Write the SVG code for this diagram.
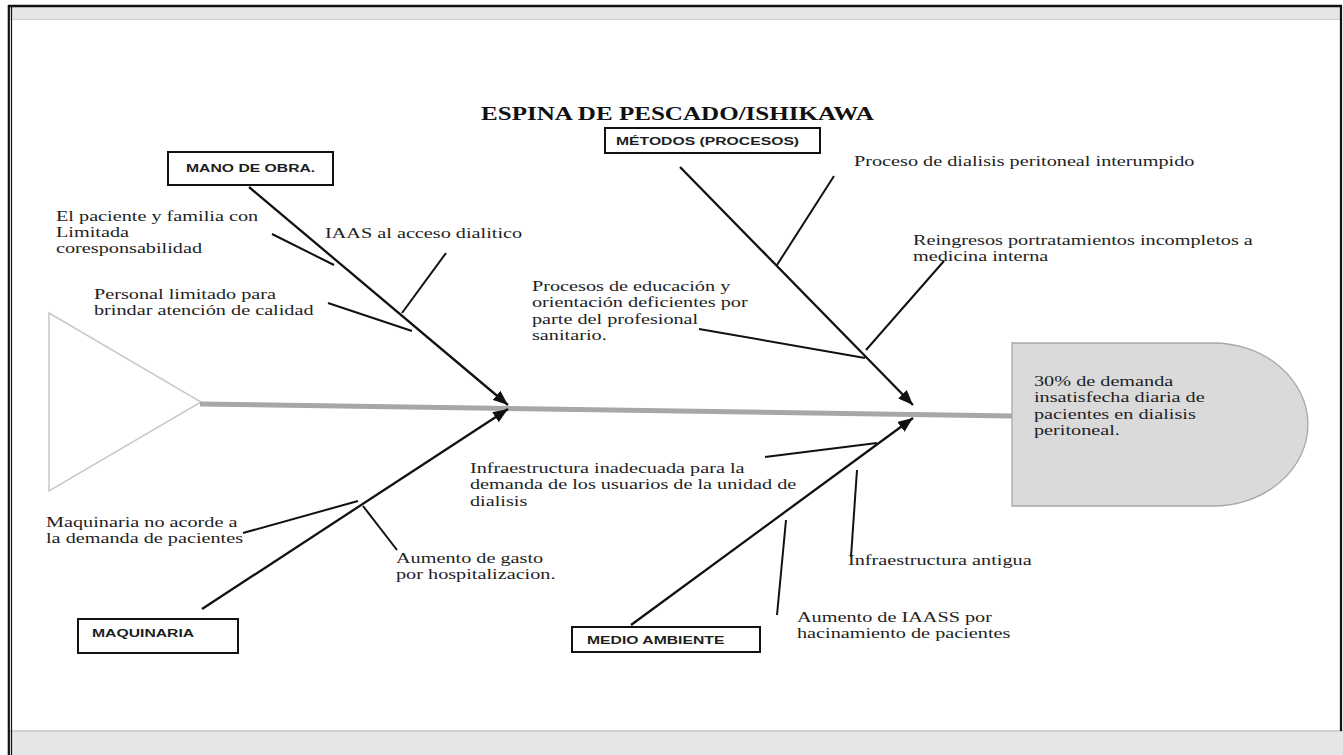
<svg xmlns="http://www.w3.org/2000/svg" width="1343" height="755" viewBox="0 0 1343 755">
  <style>
    .lbl { font-family: "Liberation Serif", "Times New Roman", serif; font-size: 15px; fill: #1e1e1e; }
    .cat { font-family: "Liberation Sans", Arial, sans-serif; font-size: 11px; font-weight: bold; fill: #1e1e1e; }
    .title { font-family: "Liberation Serif", "Times New Roman", serif; font-size: 19px; font-weight: bold; fill: #111; }
    .box { fill: #ffffff; stroke: #111; stroke-width: 2; }
    .bone { stroke: #111; stroke-width: 2.3; fill: none; }
    .sub { stroke: #111; stroke-width: 2; fill: none; }
  </style>
  <defs>
    <marker id="arr" markerUnits="userSpaceOnUse" markerWidth="16" markerHeight="12" refX="15" refY="6" orient="auto">
      <path d="M0,0 L15,6 L0,12 Z" fill="#111"/>
    </marker>
  </defs>

  <!-- frame -->
  <g id="frame">
    <rect x="0" y="0" width="1343" height="755" fill="#ffffff"/>
    <rect x="9" y="7" width="1332" height="13" fill="#e6e6e6"/>
    <line x1="9" y1="19.5" x2="1341" y2="19.5" stroke="#cfcfcf" stroke-width="1.2"/>
    <rect x="9" y="730" width="1334" height="25" fill="#e6e6e6"/>
    <line x1="9" y1="731" x2="1343" y2="731" stroke="#d0d0d0" stroke-width="2"/>
    <line x1="8" y1="6" x2="1342" y2="6" stroke="#111" stroke-width="2.5"/>
    <line x1="8.8" y1="5" x2="8.8" y2="755" stroke="#111" stroke-width="2.2"/>
    <line x1="11.5" y1="7" x2="11.5" y2="755" stroke="#111" stroke-width="1.2"/>
    <line x1="1341" y1="5" x2="1341" y2="731" stroke="#111" stroke-width="2.2"/>
  </g>

  <!-- title -->
  <text id="title" class="title" transform="matrix(1.32 0 0 1 481 120)" x="0" y="0">ESPINA DE PESCADO/ISHIKAWA</text>

  <!-- tail -->
  <g id="tail">
    <polygon points="49,313 201,402 49,491" fill="#ffffff" stroke="#c9c9c9" stroke-width="1.5"/>
  </g>

  <!-- head -->
  <g id="head">
    <path d="M1012,343 H1213 A95,81.5 0 0 1 1213,506 H1012 Z" fill="#dadada" stroke="#a8a8a8" stroke-width="1.3"/>
    <text class="lbl" transform="matrix(1.35 0 0 1 1034 386)">
      <tspan x="0" y="0">30% de demanda</tspan>
      <tspan x="0" y="16.5">insatisfecha diaria de</tspan>
      <tspan x="0" y="33">pacientes en dialisis</tspan>
      <tspan x="0" y="49.5">peritoneal.</tspan>
    </text>
  </g>

  <!-- connectors -->
  <g id="connectors">
    <line x1="200" y1="404" x2="1012" y2="416" stroke="#a7a7a7" stroke-width="5"/>
    <line class="bone" x1="249" y1="187" x2="508" y2="405" marker-end="url(#arr)"/>
    <line class="bone" x1="680" y1="167" x2="913" y2="405" marker-end="url(#arr)"/>
    <line class="bone" x1="202" y1="609" x2="508" y2="409" marker-end="url(#arr)"/>
    <line class="bone" x1="631" y1="625" x2="913" y2="418" marker-end="url(#arr)"/>
    <line class="sub" x1="446" y1="253" x2="402" y2="313"/>
    <line class="sub" x1="272" y1="234" x2="334" y2="265"/>
    <line class="sub" x1="328" y1="303" x2="412" y2="331"/>
    <line class="sub" x1="834" y1="176" x2="777" y2="265"/>
    <line class="sub" x1="944" y1="261" x2="866" y2="350"/>
    <line class="sub" x1="699" y1="329" x2="865" y2="358"/>
    <line class="sub" x1="243" y1="533" x2="358" y2="501"/>
    <line class="sub" x1="363" y1="506" x2="397" y2="550"/>
    <line class="sub" x1="765" y1="457" x2="877" y2="443"/>
    <line class="sub" x1="786" y1="520" x2="777" y2="615"/>
    <line class="sub" x1="857" y1="470" x2="851" y2="557"/>
  </g>

  <!-- category boxes -->
  <g id="mano-de-obra">
    <rect class="box" x="168" y="152" width="165" height="33"/>
    <text class="cat" transform="matrix(1.43 0 0 1 186 172)">MANO DE OBRA.</text>
  </g>
  <g id="metodos">
    <rect class="box" x="605" y="128" width="215" height="25"/>
    <text class="cat" transform="matrix(1.43 0 0 1 616 145)">MÉTODOS (PROCESOS)</text>
  </g>
  <g id="maquinaria">
    <rect class="box" x="78" y="619" width="160" height="34"/>
    <text class="cat" transform="matrix(1.43 0 0 1 92 637)">MAQUINARIA</text>
  </g>
  <g id="medio-ambiente">
    <rect class="box" x="572" y="627" width="188" height="25"/>
    <text class="cat" transform="matrix(1.43 0 0 1 587 644)">MEDIO AMBIENTE</text>
  </g>

  <!-- cause labels -->
  <g id="cause-paciente">
    <text class="lbl" transform="matrix(1.35 0 0 1 56 221)">
      <tspan x="0" y="0">El paciente y familia con</tspan>
      <tspan x="0" y="16">Limitada</tspan>
      <tspan x="0" y="32">coresponsabilidad</tspan>
    </text>
  </g>
  <g id="cause-iaas">
    <text class="lbl" transform="matrix(1.35 0 0 1 325 238)">IAAS al acceso dialitico</text>
  </g>
  <g id="cause-personal">
    <text class="lbl" transform="matrix(1.35 0 0 1 94 299)">
      <tspan x="0" y="0">Personal limitado para</tspan>
      <tspan x="0" y="16.5">brindar atención de calidad</tspan>
    </text>
  </g>
  <g id="cause-proceso">
    <text class="lbl" transform="matrix(1.35 0 0 1 854 166)">Proceso de dialisis peritoneal interumpido</text>
  </g>
  <g id="cause-reingresos">
    <text class="lbl" transform="matrix(1.35 0 0 1 913 245)">
      <tspan x="0" y="0">Reingresos portratamientos incompletos a</tspan>
      <tspan x="0" y="16">medicina interna</tspan>
    </text>
  </g>
  <g id="cause-educacion">
    <text class="lbl" transform="matrix(1.35 0 0 1 532 291)">
      <tspan x="0" y="0">Procesos de educación y</tspan>
      <tspan x="0" y="16.5">orientación deficientes por</tspan>
      <tspan x="0" y="33">parte del profesional</tspan>
      <tspan x="0" y="49.5">sanitario.</tspan>
    </text>
  </g>
  <g id="cause-infra-inadecuada">
    <text class="lbl" transform="matrix(1.35 0 0 1 470 473)">
      <tspan x="0" y="0">Infraestructura inadecuada para la</tspan>
      <tspan x="0" y="16.5">demanda de los usuarios de la unidad de</tspan>
      <tspan x="0" y="33">dialisis</tspan>
    </text>
  </g>
  <g id="cause-maquinaria">
    <text class="lbl" transform="matrix(1.35 0 0 1 46 527)">
      <tspan x="0" y="0">Maquinaria no acorde a</tspan>
      <tspan x="0" y="16.5">la demanda de pacientes</tspan>
    </text>
  </g>
  <g id="cause-gasto">
    <text class="lbl" transform="matrix(1.35 0 0 1 396 563)">
      <tspan x="0" y="0">Aumento de gasto</tspan>
      <tspan x="0" y="16.5">por hospitalizacion.</tspan>
    </text>
  </g>
  <g id="cause-infra-antigua">
    <text class="lbl" transform="matrix(1.35 0 0 1 848 565)">Infraestructura antigua</text>
  </g>
  <g id="cause-hacinamiento">
    <text class="lbl" transform="matrix(1.35 0 0 1 797 622)">
      <tspan x="0" y="0">Aumento de IAASS por</tspan>
      <tspan x="0" y="16">hacinamiento de pacientes</tspan>
    </text>
  </g>
</svg>
